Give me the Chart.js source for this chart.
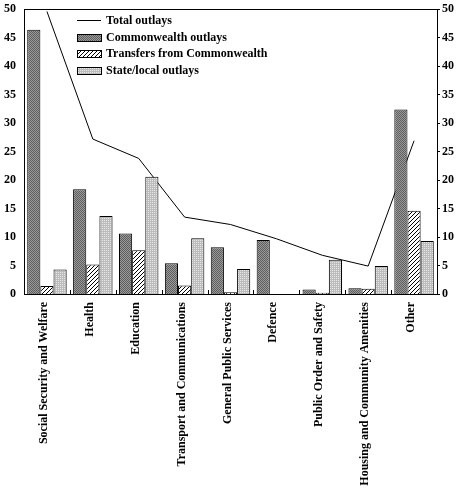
<!DOCTYPE html>
<html>
<head>
<meta charset="utf-8">
<script src="https://cdn.jsdelivr.net/npm/chart.js@4"></script>
<style>
  body { margin: 0; background: #fff; }
  canvas { display: block; }
</style>
</head>
<body>
<canvas id="grafica" width="462" height="492"></canvas>
<script>
const categories = [
  'Social Security and Welfare', 'Health', 'Education', 'Transport and Communications',
  'General Public Services', 'Defence', 'Public Order and Safety',
  'Housing and Community Amenities', 'Other'
];
const totalOutlays = [49.6, 27.2, 23.8, 13.5, 12.2, 9.7, 6.8, 4.9, 26.9];
const commonwealthOutlays = [46.4, 18.4, 10.6, 5.4, 8.2, 9.5, 0.8, 1.0, 32.4];
const transfersFromCommonwealth = [1.4, 5.2, 7.7, 1.5, 0.3, 0, 0.2, 0.9, 14.6];
const stateLocalOutlays = [4.3, 13.7, 20.6, 9.8, 4.4, 0, 6.0, 4.9, 9.3];
const yTicks = [0, 5, 10, 15, 20, 25, 30, 35, 40, 45, 50];

const FONT = { family: '"Liberation Serif", "DejaVu Serif", serif', size: 12, weight: 'bold' };

// fill patterns
function makePattern(size, draw) {
  const c = document.createElement('canvas');
  c.width = size; c.height = size;
  const g = c.getContext('2d');
  draw(g);
  return document.getElementById('grafica').getContext('2d').createPattern(c, 'repeat');
}
const darkFill = makePattern(2, g => {
  g.fillStyle = '#9a9a9a'; g.fillRect(0, 0, 2, 2);
  g.fillStyle = '#5e5e5e'; g.fillRect(0, 0, 1, 1); g.fillRect(1, 1, 1, 1);
});
const hatchFill = makePattern(4, g => {
  g.fillStyle = '#fff'; g.fillRect(0, 0, 4, 4);
  g.fillStyle = '#000';
  for (let i = 0; i < 4; i++) g.fillRect(i, 3 - i, 1, 1);
});
const lightFill = makePattern(2, g => {
  g.fillStyle = '#bcbcbc'; g.fillRect(0, 0, 2, 2);
  g.fillStyle = '#e8e8e8'; g.fillRect(0, 0, 1, 1);
});

// frame + small category ticks
const framePlugin = {
  id: 'frame',
  afterDatasetsDraw(chart) {
    const { ctx, chartArea: a, scales } = chart;
    ctx.save();
    ctx.strokeStyle = '#000';
    ctx.lineWidth = 1;
    ctx.strokeRect(Math.round(a.left) + 0.5, Math.round(a.top) + 0.5,
      Math.round(a.right - a.left), Math.round(a.bottom - a.top));
    const x = scales.x;
    const n = categories.length;
    const step = (x.right - x.left) / n;
    ctx.beginPath();
    for (let i = 1; i < n; i++) {
      const px = Math.round(x.left + i * step) + 0.5;
      ctx.moveTo(px, a.bottom);
      ctx.lineTo(px, a.bottom - 4);
    }
    ctx.stroke();
    ctx.restore();
  }
};

// legend inside plot, top-left
const legendPlugin = {
  id: 'insideLegend',
  afterDraw(chart) {
    const { ctx, chartArea: a } = chart;
    const x0 = a.left + 53, y0 = a.top + 11, rowH = 16.5;
    ctx.save();
    ctx.font = 'bold 12px "Liberation Serif", serif';
    ctx.textBaseline = 'middle';
    chart.data.datasets.forEach((ds, i) => {
      const y = Math.round(y0 + i * rowH);
      if (ds.type === 'line') {
        ctx.strokeStyle = '#000'; ctx.lineWidth = 1;
        ctx.beginPath(); ctx.moveTo(x0, y + 0.5); ctx.lineTo(x0 + 24, y + 0.5); ctx.stroke();
      } else {
        ctx.fillStyle = ds.backgroundColor;
        ctx.fillRect(x0, y - 3, 24, 7);
        ctx.strokeStyle = '#000'; ctx.lineWidth = 1;
        ctx.strokeRect(x0 + 0.5, y - 3 + 0.5, 24, 7);
      }
      ctx.fillStyle = '#000';
      ctx.fillText(ds.label, x0 + 29, y + 1);
    });
    ctx.restore();
  }
};

Chart.defaults.color = '#000';
Chart.defaults.font = FONT;

new Chart(document.getElementById('grafica').getContext('2d'), {
  data: {
    labels: categories,
    datasets: [
      {
        type: 'line', label: 'Total outlays', data: totalOutlays,
        borderColor: '#000', borderWidth: 1, pointRadius: 0, tension: 0,
        fill: false, order: 1, yAxisID: 'y'
      },
      {
        type: 'bar', label: 'Commonwealth outlays', data: commonwealthOutlays,
        backgroundColor: darkFill, borderColor: '#000', borderWidth: 1, order: 0
      },
      {
        type: 'bar', label: 'Transfers from Commonwealth', data: transfersFromCommonwealth,
        backgroundColor: hatchFill, borderColor: '#000', borderWidth: 1, order: 0
      },
      {
        type: 'bar', label: 'State/local outlays', data: stateLocalOutlays,
        backgroundColor: lightFill, borderColor: '#000', borderWidth: 1, order: 0
      }
    ]
  },
  options: {
    responsive: false,
    animation: false,
    datasets: { bar: { categoryPercentage: 0.86, barPercentage: 1.0 } },
    layout: { padding: 0 },
    plugins: { legend: { display: false }, tooltip: { enabled: false } },
    scales: {
      x: {
        offset: true,
        grid: { display: false, drawTicks: false },
        border: { display: false },
        ticks: { minRotation: 90, maxRotation: 90, autoSkip: false, padding: 8, labelOffset: -3, font: FONT },
        afterFit(s) { s.height = 198; }
      },
      y: {
        position: 'left', min: 0, max: 50,
        afterBuildTicks(s) { s.ticks = yTicks.map(v => ({ value: v })); },
        grid: { display: false, drawTicks: true, tickLength: 7 },
        border: { display: false },
        ticks: { padding: 1, font: FONT },
        afterFit(s) { s.width = 24; }
      },
      y2: {
        position: 'right', min: 0, max: 50,
        afterBuildTicks(s) { s.ticks = yTicks.map(v => ({ value: v })); },
        grid: { drawOnChartArea: false, drawTicks: true, tickLength: 3, color: '#000' },
        border: { display: false },
        ticks: { padding: 2, font: FONT },
        afterFit(s) { s.width = 25; }
      }
    }
  },
  plugins: [framePlugin, legendPlugin]
});
</script>
</body>
</html>
